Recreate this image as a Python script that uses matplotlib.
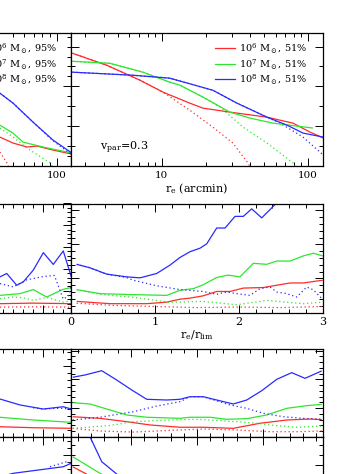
import matplotlib
matplotlib.use("Agg")
import matplotlib.pyplot as plt
from matplotlib.ticker import MultipleLocator, NullFormatter, FuncFormatter, LogLocator
from matplotlib.lines import Line2D

plt.rcParams['font.family'] = ['DejaVu Serif']
plt.rcParams['mathtext.fontset'] = 'dejavuserif'
plt.rcParams['font.size'] = 7.5

RED, GREEN, BLUE = '#ff2a2a', '#2ee62e', '#2a2aff'
DOT = (0, (1.0, 2.2))

# ---------------- Row 1 : profiles vs r_e (arcmin) ----------------
r1_labels_left = [r'$10^6$ M$_\odot$, 95%', r'$10^7$ M$_\odot$, 95%', r'$10^8$ M$_\odot$, 95%']
r1_labels_right = [r'$10^6$ M$_\odot$, 51%', r'$10^7$ M$_\odot$, 51%', r'$10^8$ M$_\odot$, 51%']

# right panel (51%)
r1R_red_x = [2.44, 4.2, 7.07, 10.2, 15.5, 19.1, 29.2, 52.4, 78.9, 103, 127]
r1R_red_y = [0.850, 0.759, 0.647, 0.556, 0.474, 0.436, 0.406, 0.368, 0.323, 0.256, 0.211]
r1R_redd_x = [2.44, 4.2, 7.07, 10.2, 15.5, 22.3, 30.6, 38.8, 43.4]
r1R_redd_y = [0.850, 0.759, 0.647, 0.556, 0.421, 0.293, 0.173, 0.023, -0.07]
r1R_grn_x = [2.44, 4.40, 7.41, 11.3, 13.3, 19.1, 29.2, 40.1, 57.5, 108]
r1R_grn_y = [0.789, 0.774, 0.707, 0.632, 0.609, 0.519, 0.406, 0.361, 0.323, 0.286]
r1R_grnd_x = [2.44, 4.40, 7.41, 11.3, 13.3, 19.1, 25.0, 35.9, 52.4, 78.9, 88]
r1R_grnd_y = [0.789, 0.774, 0.707, 0.632, 0.609, 0.519, 0.444, 0.293, 0.173, 0.023, -0.07]
r1R_blu_x = [2.44, 6.33, 11.3, 22.3, 32.6, 52.4, 71.8, 92.4, 127]
r1R_blu_y = [0.707, 0.684, 0.662, 0.571, 0.474, 0.368, 0.308, 0.248, 0.218]
r1R_blud_x = [2.44, 6.33, 11.3, 22.3, 32.6, 52.4, 64.3, 92.4, 127]
r1R_blud_y = [0.707, 0.684, 0.662, 0.571, 0.474, 0.368, 0.323, 0.218, 0.083]

# left panel (95%)
r1L_red_x = [40.9, 50.3, 62.7, 73.4, 94.5, 127]
r1L_red_y = [0.218, 0.173, 0.143, 0.150, 0.120, 0.090]
r1L_redd_x = [40.9, 45.7, 48.0]
r1L_redd_y = [0.105, 0.023, -0.03]
r1L_grn_x = [40.9, 50.3, 58.9, 80.7, 127]
r1L_grn_y = [0.308, 0.248, 0.180, 0.143, 0.098]
r1L_grnd_x = [40.9, 50.3, 62.7, 90.1, 97.5]
r1L_grnd_y = [0.286, 0.218, 0.135, 0.023, -0.03]
r1L_blu_x = [40.9, 50.3, 68.9, 94.5, 127]
r1L_blu_y = [0.549, 0.474, 0.331, 0.195, 0.098]
r1L_blud_x = [40.9, 50.3, 68.9, 94.5, 127]
r1L_blud_y = [0.549, 0.474, 0.331, 0.190, 0.085]

# ---------------- Row 2 : vs r_e / r_lim ----------------
r2R_blu_x = [0.064, 0.223, 0.422, 0.661, 0.820, 1.019, 1.178, 1.297, 1.417, 1.536, 1.616,
             1.735, 1.835, 1.954, 2.053, 2.153, 2.272, 2.371, 2.451, 2.55]
r2R_blu_y = [0.442, 0.410, 0.352, 0.327, 0.318, 0.358, 0.435, 0.505, 0.558, 0.590, 0.630,
             0.775, 0.775, 0.882, 0.882, 0.951, 0.868, 0.944, 1.006, 1.08]
r2R_blud_x = [0.064, 0.223, 0.422, 0.661, 0.740, 1.019, 1.297, 1.572, 1.735, 1.854, 1.974,
              2.132, 2.252, 2.371, 2.451, 2.570, 2.690, 2.809, 2.888, 2.99]
r2R_blud_y = [0.442, 0.410, 0.352, 0.320, 0.296, 0.245, 0.210, 0.193, 0.167, 0.188, 0.173,
              0.157, 0.219, 0.234, 0.188, 0.173, 0.142, 0.234, 0.208, 0.127]
r2R_grn_x = [0.064, 0.342, 0.740, 1.138, 1.297, 1.456, 1.575, 1.735, 1.874, 2.013, 2.172,
             2.332, 2.451, 2.610, 2.768, 2.888, 3.0]
r2R_grn_y = [0.210, 0.173, 0.164, 0.157, 0.204, 0.219, 0.255, 0.321, 0.343, 0.327, 0.451,
             0.442, 0.472, 0.472, 0.519, 0.544, 0.519]
r2R_grnd_x = [0.064, 0.342, 0.740, 1.178, 1.572, 1.974, 2.332, 2.768, 3.0]
r2R_grnd_y = [0.210, 0.167, 0.139, 0.093, 0.102, 0.071, 0.111, 0.081, 0.095]
r2R_red_x = [0.064, 0.462, 0.900, 1.138, 1.297, 1.417, 1.575, 1.735, 1.894, 2.053, 2.291,
             2.610, 2.768, 3.0]
r2R_red_y = [0.102, 0.081, 0.081, 0.095, 0.122, 0.132, 0.153, 0.193, 0.193, 0.224, 0.229,
             0.271, 0.271, 0.296]
r2R_redd_x = [0.064, 0.5, 1.0, 1.5, 2.0, 2.5, 3.0]
r2R_redd_y = [0.085, 0.065, 0.055, 0.045, 0.050, 0.045, 0.055]

r2L_blu_x = [1.571, 1.638, 1.737, 1.803, 1.902, 2.002, 2.101, 2.200, 2.28]
r2L_blu_y = [0.327, 0.358, 0.250, 0.281, 0.389, 0.549, 0.441, 0.565, 0.327]
r2L_blud_x = [1.571, 1.704, 1.836, 2.002, 2.112, 2.200, 2.25, 2.28]
r2L_blud_y = [0.265, 0.235, 0.300, 0.330, 0.340, 0.123, 0.15, 0.25]
r2L_grn_x = [1.571, 1.770, 1.902, 2.035, 2.200, 2.28]
r2L_grn_y = [0.157, 0.173, 0.210, 0.142, 0.213, 0.229]
r2L_grnd_x = [1.571, 1.704, 1.803, 1.902, 2.035, 2.200, 2.28]
r2L_grnd_y = [0.127, 0.142, 0.135, 0.111, 0.139, 0.095, 0.11]
r2L_red_x = [1.571, 1.9, 2.28]
r2L_red_y = [0.081, 0.086, 0.081]
r2L_redd_x = [1.571, 1.9, 2.28]
r2L_redd_y = [0.049, 0.052, 0.049]

# ---------------- Row 3 ----------------
r3R_blu_x = [0.061, 0.154, 0.280, 0.393, 0.507, 0.620, 0.771, 0.872, 0.946, 1.048, 1.149,
             1.274, 1.376, 1.489, 1.603, 1.716, 1.816, 1.942]
r3R_blu_y = [0.675, 0.701, 0.749, 0.644, 0.531, 0.426, 0.418, 0.426, 0.455, 0.455, 0.418,
             0.373, 0.418, 0.523, 0.652, 0.727, 0.663, 0.746]
r3R_blud_x = [0.061, 0.267, 0.519, 0.696, 0.872, 0.946, 1.048, 1.249, 1.376, 1.501, 1.652,
              1.804, 1.943]
r3R_blud_y = [0.192, 0.223, 0.286, 0.350, 0.399, 0.455, 0.455, 0.362, 0.324, 0.268, 0.229,
              0.211, 0.200]
r3R_grn_x = [0.061, 0.191, 0.343, 0.469, 0.620, 0.872, 0.946, 1.098, 1.225, 1.376, 1.527,
             1.678, 1.829, 1.943]
r3R_grn_y = [0.388, 0.373, 0.305, 0.249, 0.223, 0.211, 0.223, 0.223, 0.200, 0.207, 0.249,
             0.324, 0.354, 0.369]
r3R_grnd_x = [0.061, 0.343, 0.519, 0.798, 1.0, 1.30, 1.451, 1.552, 1.753, 1.943]
r3R_grnd_y = [0.098, 0.130, 0.173, 0.192, 0.200, 0.173, 0.155, 0.136, 0.110, 0.124]
r3R_red_x = [0.061, 0.267, 0.469, 0.645, 0.872, 1.048, 1.274, 1.476, 1.678, 1.854, 1.943]
r3R_red_y = [0.229, 0.211, 0.173, 0.136, 0.110, 0.110, 0.098, 0.155, 0.192, 0.203, 0.197]
r3R_redd_x = [0.061, 0.267, 0.519, 0.872, 1.05, 1.30, 1.552, 1.753, 1.943]
r3R_redd_y = [0.098, 0.068, 0.056, 0.080, 0.090, 0.079, 0.060, 0.060, 0.068]

r3L_blu_x = [1.571, 1.770, 2.002, 2.200, 2.28]
r3L_blu_y = [0.429, 0.362, 0.316, 0.342, 0.316]
r3L_blud_x = [1.9, 2.002, 2.12, 2.200, 2.28]
r3L_blud_y = [0.330, 0.316, 0.324, 0.324, 0.310]
r3L_grn_x = [1.571, 1.902, 2.28]
r3L_grn_y = [0.223, 0.192, 0.166]
r3L_red_x = [1.571, 1.902, 2.28]
r3L_red_y = [0.116, 0.105, 0.098]

# ---------------- Row 4 ----------------
r4R_blu_x = [0.061, 0.191, 0.280, 0.393, 0.45]
r4R_blu_y = [1.30, 1.003, 0.721, 0.582, 0.50]
r4R_grn_x = [0.061, 0.267, 0.35]
r4R_grn_y = [0.777, 0.590, 0.52]
r4R_red_x = [0.061, 0.166, 0.25]
r4R_red_y = [0.664, 0.58, 0.50]
r4L_blu_x = [1.571, 1.704, 2.200, 2.28]
r4L_blu_y = [0.55, 0.590, 0.664, 0.703]
r4L_blud_x = [2.068, 2.234, 2.28]
r4L_blud_y = [0.664, 0.721, 0.70]

# ------------------------------------------------------------------
W, H = 354, 474
fig = plt.figure(figsize=(W / 100, H / 100), dpi=100)


def add_ax(left_px, top_px, w_px, h_px):
    return fig.add_axes([left_px / W, 1 - (top_px + h_px) / H, w_px / W, h_px / H])


PW = 251.4
XL, XR = 71.3 - PW, 71.3
rows = [(33.3, 132.7), (203.5, 109.0), (348.5, 88.5), (437.0, 88.5)]


def style(ax, ymin, ymaj):
    ax.tick_params(which='both', direction='in', top=True, right=True, width=0.7, colors='black')
    ax.tick_params(which='major', length=5.5)
    ax.tick_params(which='minor', length=2.8)
    ax.yaxis.set_major_locator(MultipleLocator(ymaj))
    ax.yaxis.set_minor_locator(MultipleLocator(ymin))
    ax.tick_params(labelleft=False)
    for s in ax.spines.values():
        s.set_linewidth(0.9)


def line(ax, x, y, c, dotted=False):
    ax.plot(x, y, color=c, lw=0.9, ls=DOT if dotted else '-', solid_capstyle='butt')


# Row 1
for col in (0, 1):
    ax = add_ax(XL if col == 0 else XR, rows[0][0], PW, rows[0][1])
    ax.set_xscale('log')
    ax.set_xlim(2.4, 126)
    ax.set_ylim(0, 1)
    style(ax, 0.075 if col == 0 else 0.15, 0.6 if col == 0 else 0.3)
    ax.xaxis.set_major_locator(LogLocator(base=10))
    ax.xaxis.set_minor_locator(LogLocator(base=10, subs=range(2, 10)))
    ax.xaxis.set_major_formatter(FuncFormatter(lambda v, p: f'{v:g}'))
    ax.xaxis.set_minor_formatter(NullFormatter())
    ax.tick_params(axis='x', pad=3.5)
    if col == 0:
        data = [(r1L_red_x, r1L_red_y, RED, False), (r1L_redd_x, r1L_redd_y, RED, True),
                (r1L_grn_x, r1L_grn_y, GREEN, False), (r1L_grnd_x, r1L_grnd_y, GREEN, True),
                (r1L_blu_x, r1L_blu_y, BLUE, False), (r1L_blud_x, r1L_blud_y, BLUE, True)]
        labels = r1_labels_left
        anchor = ((57 - XL) / PW, (166 - 41.5) / rows[0][1])
    else:
        data = [(r1R_redd_x, r1R_redd_y, RED, True), (r1R_grnd_x, r1R_grnd_y, GREEN, True),
                (r1R_blud_x, r1R_blud_y, BLUE, True),
                (r1R_red_x, r1R_red_y, RED, False), (r1R_grn_x, r1R_grn_y, GREEN, False),
                (r1R_blu_x, r1R_blu_y, BLUE, False)]
        labels = r1_labels_right
        anchor = ((307.5 - XR) / PW, (166 - 41.5) / rows[0][1])
        ax.text((100 - XR) / PW, (166 - 150) / rows[0][1], r'v$_{\rm par}$=0.3',
                transform=ax.transAxes, fontsize=8, ha='left', va='baseline')
        ax.set_xlabel(r'r$_{\rm e}$ (arcmin)', fontsize=8, labelpad=1)
    for x, y, c, d in data:
        line(ax, x, y, c, d)
    handles = [Line2D([], [], color=c, lw=0.9) for c in (RED, GREEN, BLUE)]
    ax.legend(handles, labels, loc='upper right', bbox_to_anchor=anchor, frameon=False,
              borderpad=0, borderaxespad=0, handlelength=2.0, handletextpad=0.5,
              labelspacing=0.2, fontsize=7)

# Rows 2-4
row_data = {
    1: ([(r2L_red_x, r2L_red_y, RED, False), (r2L_redd_x, r2L_redd_y, RED, True),
         (r2L_grn_x, r2L_grn_y, GREEN, False), (r2L_grnd_x, r2L_grnd_y, GREEN, True),
         (r2L_blu_x, r2L_blu_y, BLUE, False), (r2L_blud_x, r2L_blud_y, BLUE, True)],
        [(r2R_red_x, r2R_red_y, RED, False), (r2R_redd_x, r2R_redd_y, RED, True),
         (r2R_grn_x, r2R_grn_y, GREEN, False), (r2R_grnd_x, r2R_grnd_y, GREEN, True),
         (r2R_blu_x, r2R_blu_y, BLUE, False), (r2R_blud_x, r2R_blud_y, BLUE, True)]),
    2: ([(r3L_red_x, r3L_red_y, RED, False), (r3L_grn_x, r3L_grn_y, GREEN, False),
         (r3L_blu_x, r3L_blu_y, BLUE, False), (r3L_blud_x, r3L_blud_y, BLUE, True)],
        [(r3R_red_x, r3R_red_y, RED, False), (r3R_redd_x, r3R_redd_y, RED, True),
         (r3R_grn_x, r3R_grn_y, GREEN, False), (r3R_grnd_x, r3R_grnd_y, GREEN, True),
         (r3R_blu_x, r3R_blu_y, BLUE, False), (r3R_blud_x, r3R_blud_y, BLUE, True)]),
    3: ([(r4L_blu_x, r4L_blu_y, BLUE, False), (r4L_blud_x, r4L_blud_y, BLUE, True)],
        [(r4R_red_x, r4R_red_y, RED, False), (r4R_grn_x, r4R_grn_y, GREEN, False),
         (r4R_blu_x, r4R_blu_y, BLUE, False)]),
}
yticks = {1: ((0.04, 0.2), (0.0625, 0.3125)), 2: ((0.08, 0.4), (0.065, 0.325)),
          3: ((0.08, 0.4), (0.113, 0.34))}

for r in (1, 2, 3):
    top, h = rows[r]
    for col in (0, 1):
        ax = add_ax(XL if col == 0 else XR, top, PW, h)
        ax.set_ylim(0, 1)
        style(ax, *yticks[r][col])
        if col == 0:
            ax.set_xlim(-0.22, 2.28)
            ax.xaxis.set_major_locator(MultipleLocator(0.5))
            ax.xaxis.set_minor_locator(MultipleLocator(0.1))
            ax.tick_params(labelbottom=False)
        else:
            if r == 1:
                ax.set_xlim(0, 3)
                ax.xaxis.set_major_locator(MultipleLocator(1))
                ax.xaxis.set_minor_locator(MultipleLocator(0.2))
                ax.xaxis.set_major_formatter(FuncFormatter(lambda v, p: f'{v:g}'))
                ax.tick_params(axis='x', pad=3.5, labelsize=8)
                ax.set_xlabel(r'r$_{\rm e}$/r$_{\rm lim}$', fontsize=8, labelpad=1)
            else:
                ax.set_xlim(0.05, 1.95)
                ax.xaxis.set_major_locator(MultipleLocator(0.5))
                ax.xaxis.set_minor_locator(MultipleLocator(0.1))
                ax.tick_params(labelbottom=False)
        for x, y, c, d in row_data[r][col]:
            line(ax, x, y, c, d)

fig.savefig('out.png', dpi=100)
